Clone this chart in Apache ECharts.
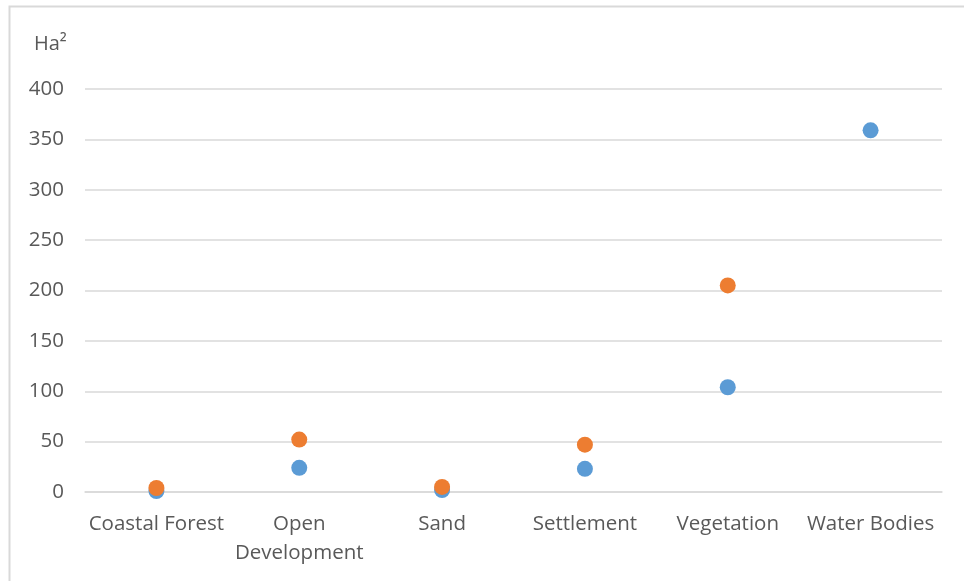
<!DOCTYPE html>
<html><head><meta charset="utf-8">
<script src="https://cdn.jsdelivr.net/npm/echarts@6/dist/echarts.min.js"></script>
<style>html,body{margin:0;padding:0;background:#fff}#c{width:964px;height:581px}</style>
</head><body><div id="c"></div>
<script>
const categories = ['Coastal Forest', 'Open\nDevelopment', 'Sand', 'Settlement', 'Vegetation', 'Water Bodies'];
const seriesA = [1, 24, 2, 23, 104, 359];
const seriesB = [4, 52, 5, 47, 205, null];
const yTicks = {min: 0, max: 400, interval: 50};

const chart = echarts.init(document.getElementById('c'));
chart.setOption({
  animation: false,
  grid: {left: 85, right: 22, top: 89, bottom: 89},
  graphic: [
    {type: 'polyline', shape: {points: [[9.5, 581], [9.5, 6.5], [964, 6.5]]}, style: {stroke: '#d9d9d9', lineWidth: 2, fill: null}},
    {type: 'text', left: 34, top: 34, style: {text: 'Ha²', fontSize: 20, fill: '#595959', fontFamily: 'Open Sans'}}
  ],
  xAxis: {
    type: 'category', data: categories, boundaryGap: true,
    axisLine: {show: true, lineStyle: {color: '#d9d9d9', width: 1.5}},
    axisTick: {show: false},
    axisLabel: {color: '#595959', fontSize: 20.5, fontFamily: 'Open Sans', margin: 18, lineHeight: 29, interval: 0}
  },
  yAxis: {
    type: 'value', min: yTicks.min, max: yTicks.max, interval: yTicks.interval,
    axisLine: {show: false}, axisTick: {show: false},
    splitLine: {lineStyle: {color: '#d9d9d9', width: 1.5}},
    axisLabel: {color: '#595959', fontSize: 20.5, fontFamily: 'Open Sans', margin: 21}
  },
  series: [
    {type: 'scatter', data: seriesA, symbolSize: 16, itemStyle: {color: '#5B9BD5', opacity: 1}},
    {type: 'scatter', data: seriesB, symbolSize: 16, itemStyle: {color: '#ED7D31', opacity: 1}}
  ]
});
</script></body></html>
